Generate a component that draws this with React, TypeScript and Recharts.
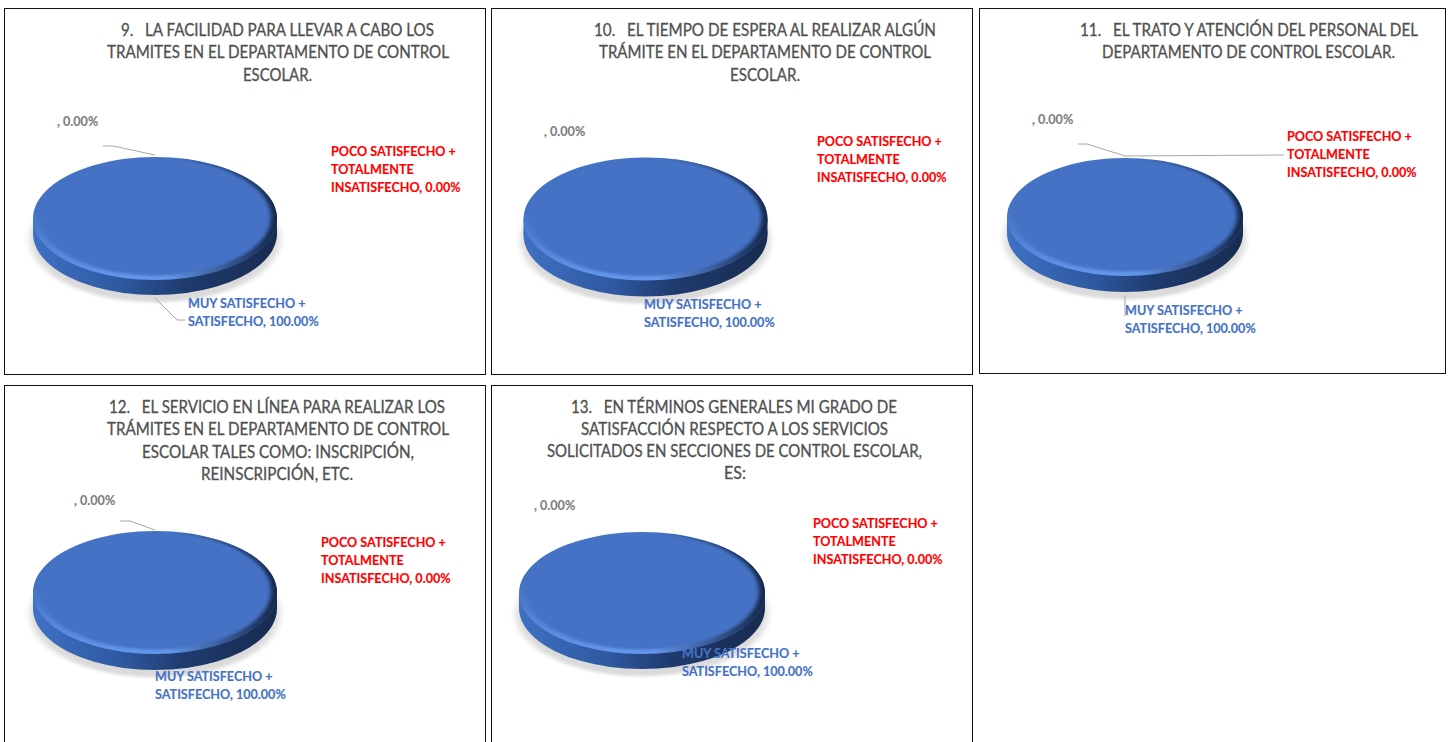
import { PieChart, Pie, Sector } from 'recharts';

// wrapped category names, the value is appended to the last line of each
const categoryLines = [
  ['MUY SATISFECHO +', 'SATISFECHO'],
  ['POCO SATISFECHO +', 'TOTALMENTE', 'INSATISFECHO'],
  [''],
];
const labelColors = ['#4472C4', '#FF0000', '#7F7F7F'];

const q9Values = [100, 0, 0];
const q10Values = [100, 0, 0];
const q11Values = [100, 0, 0];
const q12Values = [100, 0, 0];
const q13Values = [100, 0, 0];

const q9Title = ['9.   LA FACILIDAD PARA LLEVAR A CABO LOS', 'TRAMITES EN EL DEPARTAMENTO DE CONTROL', 'ESCOLAR.'];
const q10Title = ['10.   EL TIEMPO DE ESPERA AL REALIZAR ALGÚN', 'TRÁMITE EN EL DEPARTAMENTO DE CONTROL', 'ESCOLAR.'];
const q11Title = ['11.   EL TRATO Y ATENCIÓN DEL PERSONAL DEL', 'DEPARTAMENTO DE CONTROL ESCOLAR.'];
const q12Title = [
  '12.   EL SERVICIO EN LÍNEA PARA REALIZAR LOS',
  'TRÁMITES EN EL DEPARTAMENTO DE CONTROL',
  'ESCOLAR TALES COMO: INSCRIPCIÓN,',
  'REINSCRIPCIÓN, ETC.',
];
const q13Title = [
  '13.   EN TÉRMINOS GENERALES MI GRADO DE',
  'SATISFACCIÓN RESPECTO A LOS SERVICIOS',
  'SOLICITADOS EN SECCIONES DE CONTROL ESCOLAR,',
  'ES:',
];

// layout in page pixels: [x, width, centre y] per title line, [x, first line centre y] per label
const panels = [
  {
    id: 'q9', values: q9Values, title: q9Title, box: [4, 8, 482, 367], pie: [155, 218.5, 122, 61.5, 15],
    titleAt: [[121, 313, 30], [107, 342, 52], [243, 69, 75]],
    labelAt: [[188, 303.5], [331, 151.5], [57, 121.5]],
    leaders: [[[155, 298], [177, 320], [185, 320]], [], [[103, 146], [113, 146], [155, 155]]],
  },
  {
    id: 'q10', values: q10Values, title: q10Title, box: [491, 8, 482, 367], pie: [645.5, 219, 122, 61.5, 16],
    titleAt: [[594, 342, 30], [599, 332, 52], [730, 70, 75]],
    labelAt: [[644, 304], [817, 141.5], [544, 131.5]],
    leaders: [[], [], []],
  },
  {
    id: 'q11', values: q11Values, title: q11Title, box: [979, 8, 467, 366], pie: [1125, 217, 118, 59, 16],
    titleAt: [[1080, 338, 30], [1102, 293, 52]],
    labelAt: [[1125, 310.5], [1287, 136.5], [1032, 119.5]],
    leaders: [[[1125, 296], [1125, 316]], [[1125, 156], [1284, 155]], [[1078, 144], [1087, 144], [1125, 156]]],
  },
  {
    id: 'q12', values: q12Values, title: q12Title, box: [4, 385, 482, 380], pie: [155, 592.5, 122, 61.5, 16],
    titleAt: [[109, 336, 407], [107, 342, 429], [142, 272, 452], [201, 152, 474]],
    labelAt: [[155, 676.5], [321, 542.5], [74, 500.5]],
    leaders: [[], [], [[120, 521], [130, 521], [155, 530]]],
  },
  {
    id: 'q13', values: q13Values, title: q13Title, box: [491, 385, 482, 380], pie: [642, 593, 123, 61, 15],
    titleAt: [[571, 326, 407], [581, 307, 429], [547, 375, 451], [724, 22, 473]],
    labelAt: [[682, 653.5], [813, 523.5], [534, 505.5]],
    leaders: [[], [], []],
  },
];

const FONT = 'Lato, "Open Sans", sans-serif';

// flattens a circular sector to the ellipse of the tilted pie
const Flat = ({ sector, k, dy = 0, ...rest }: any) => (
  <g transform={`translate(0 ${sector.cy + dy}) scale(1 ${k}) translate(0 ${-sector.cy})`} {...rest}>
    <Sector
      cx={sector.cx}
      cy={sector.cy}
      innerRadius={0}
      outerRadius={sector.outerRadius}
      startAngle={sector.startAngle}
      endAngle={sector.endAngle}
      fill={rest.fill}
      stroke="none"
    />
  </g>
);

function Panel({ panel }: { panel: (typeof panels)[number] }) {
  const [bx, by, bw, bh] = panel.box;
  const [px, py, rx, ry, depth] = panel.pie;
  const cx = px - bx;
  const cy = py - by;
  const k = ry / rx;
  const data = categoryLines.map((lines, i) => ({ name: lines.join(' '), value: panel.values[i] }));
  const sideId = `${panel.id}-side`;
  const bevelId = `${panel.id}-bevel`;
  const shadeId = `${panel.id}-shade`;
  const blurId = `${panel.id}-blur`;
  const softId = `${panel.id}-soft`;

  const renderLabel = (p: any) => {
    const i = p.index;
    const [lx, ly] = panel.labelAt[i];
    const lines = categoryLines[i];
    const pct = `${panel.values[i].toFixed(2)}%`;
    return (
      <g key={`label-${i}`}>
        {panel.leaders[i].length > 0 && (
          <polyline
            points={panel.leaders[i].map(([x, y]) => `${x - bx},${y - by}`).join(' ')}
            fill="none"
            stroke="#A6A6A6"
            strokeWidth={1}
          />
        )}
        {lines.map((line, j) => (
          <text
            key={j}
            x={lx - bx}
            y={ly - by + j * 18}
            dy="0.36em"
            fontFamily={FONT}
            fontSize={12.6}
            fontWeight={700}
            fill={labelColors[i]}
            stroke={labelColors[i]}
            strokeWidth={0.15}
          >
            {j === lines.length - 1 ? `${line}, ${pct}` : line}
          </text>
        ))}
      </g>
    );
  };

  return (
    <div
      style={{
        position: 'absolute',
        left: bx,
        top: by,
        width: bw,
        height: bh,
        boxSizing: 'border-box',
        outline: '1.5px solid #111',
        outlineOffset: -1,
        background: '#fff',
      }}
    >
      <PieChart width={bw} height={bh} margin={{ top: 0, right: 0, bottom: 0, left: 0 }}>
        <defs>
          <linearGradient id={sideId} gradientUnits="userSpaceOnUse" x1={cx - rx} x2={cx + rx} y1={0} y2={0}>
            <stop offset="0%" stopColor="#3F70C2" />
            <stop offset="35%" stopColor="#2F5AA3" />
            <stop offset="62%" stopColor="#1F3B6E" />
            <stop offset="100%" stopColor="#182B50" />
          </linearGradient>
          <linearGradient id={bevelId} x1="0" y1="0.45" x2="0" y2="1">
            <stop offset="0%" stopColor="#4472C4" />
            <stop offset="100%" stopColor="#6497EC" />
          </linearGradient>
          <linearGradient id={shadeId} x1="0" y1="0" x2="1" y2="0">
            <stop offset="0%" stopColor="#15274A" stopOpacity={0} />
            <stop offset="55%" stopColor="#15274A" stopOpacity={0} />
            <stop offset="100%" stopColor="#15274A" stopOpacity={1} />
          </linearGradient>
          <filter id={blurId} x="-5%" y="-5%" width="110%" height="110%">
            <feGaussianBlur stdDeviation="2.2" />
          </filter>
          <filter id={softId} x="-10%" y="-15%" width="120%" height="130%">
            <feGaussianBlur stdDeviation="3.5" />
          </filter>
        </defs>
        {/* floor shadow */}
        <Pie
          data={data}
          dataKey="value"
          cx={cx}
          cy={cy}
          outerRadius={rx + 3}
          startAngle={90}
          endAngle={-270}
          label={false}
          stroke="none"
          isAnimationActive={false}
          shape={(s: any) => <Flat sector={s} k={k} dy={depth + 6} fill="#000" opacity={0.14} filter={`url(#${softId})`} />}
        />
        {/* side wall */}
        <Pie
          data={data}
          dataKey="value"
          cx={cx}
          cy={cy}
          outerRadius={rx}
          startAngle={90}
          endAngle={-270}
          label={false}
          stroke="none"
          isAnimationActive={false}
          shape={(s: any) =>
            s.endAngle === s.startAngle ? (
              <g />
            ) : (
              <g>
                <rect x={cx - rx} y={cy} width={rx * 2} height={depth} fill={`url(#${sideId})`} />
                <Flat sector={s} k={k} dy={depth} fill={`url(#${sideId})`} />
              </g>
            )
          }
        />
        {/* bevelled rim of the top face */}
        <Pie
          data={data}
          dataKey="value"
          cx={cx}
          cy={cy}
          outerRadius={rx}
          startAngle={90}
          endAngle={-270}
          label={false}
          stroke="none"
          isAnimationActive={false}
          shape={(s: any) => (
            <g>
              <Flat sector={s} k={k} fill={`url(#${bevelId})`} />
              <Flat sector={s} k={k} fill={`url(#${shadeId})`} />
            </g>
          )}
        />
        {/* top face with the labels */}
        <Pie
          data={data}
          dataKey="value"
          cx={cx}
          cy={cy}
          outerRadius={rx - 6}
          startAngle={90}
          endAngle={-270}
          stroke="none"
          labelLine={false}
          label={renderLabel}
          isAnimationActive={false}
          shape={(s: any) => <Flat sector={s} k={k} dy={-1.5} fill="#4472C4" filter={`url(#${blurId})`} />}
        />
        {panel.title.map((line, i) => {
          const [tx, tw, ty] = panel.titleAt[i];
          return (
            <text
              key={i}
              x={tx - bx}
              y={ty - by}
              dy="0.36em"
              textLength={tw}
              lengthAdjust="spacingAndGlyphs"
              fontFamily={FONT}
              fontSize={16.5}
              fill="#505050"
              stroke="#505050"
              strokeWidth={0.3}
              style={{ whiteSpace: 'pre' }}
            >
              {line}
            </text>
          );
        })}
      </PieChart>
    </div>
  );
}

export default function App() {
  return (
    <div style={{ position: 'absolute', left: 0, top: 0, width: 1453, height: 742, overflow: 'hidden', background: '#fff' }}>
      {panels.map((p) => (
        <Panel key={p.id} panel={p} />
      ))}
    </div>
  );
}
